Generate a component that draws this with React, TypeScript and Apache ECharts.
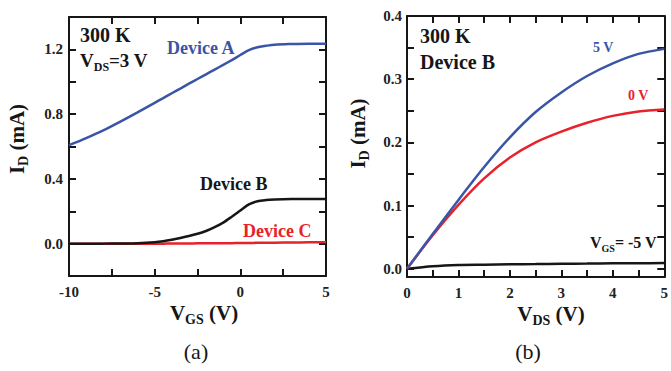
import React, { useEffect, useRef } from 'react';
import * as echarts from 'echarts';

// ---------- data ----------
const vgs = [-10, -9, -8, -7, -6, -5, -4.5, -4, -3.5, -3, -2.5, -2, -1.5, -1, -0.5, 0, 0.5, 1, 1.5, 2, 3, 4, 5];
const deviceA = [0.608, 0.652, 0.7, 0.754, 0.811, 0.87, 0.899, 0.929, 0.958, 0.988, 1.017, 1.046, 1.075, 1.104, 1.134, 1.165, 1.195, 1.213, 1.222, 1.229, 1.233, 1.235, 1.235];
const deviceB = [0, 0, 0, 0.001, 0.003, 0.009, 0.015, 0.024, 0.035, 0.047, 0.061, 0.078, 0.102, 0.13, 0.166, 0.204, 0.242, 0.262, 0.269, 0.272, 0.275, 0.276, 0.276];
const deviceC = [0, 0, 0, 0, 0, 0, 0, 0.001, 0.001, 0.001, 0.002, 0.002, 0.002, 0.003, 0.003, 0.004, 0.004, 0.005, 0.005, 0.006, 0.007, 0.008, 0.009];

const vds = [0, 0.5, 1, 1.5, 2, 2.5, 3, 3.5, 4, 4.5, 5];
const idVgs5 = [0, 0.055, 0.109, 0.161, 0.208, 0.248, 0.279, 0.305, 0.325, 0.34, 0.348];
const idVgs0 = [0, 0.053, 0.101, 0.143, 0.176, 0.2, 0.217, 0.231, 0.242, 0.249, 0.252];
const idVgsM5 = [0, 0.004, 0.006, 0.0065, 0.007, 0.0075, 0.008, 0.0083, 0.0086, 0.0088, 0.009];

const leftXTicks = [-10, -7.5, -5, -2.5, 0, 2.5, 5];
const leftXLabels = [-10, -5, 0, 5];
const leftYTicks = [-0.2, 0, 0.2, 0.4, 0.6, 0.8, 1.0, 1.2, 1.4];
const leftYLabels = [0, 0.4, 0.8, 1.2];
const rightXTicks = [0, 0.5, 1, 1.5, 2, 2.5, 3, 3.5, 4, 4.5, 5];
const rightXLabels = [0, 1, 2, 3, 4, 5];
const rightYTicks = [0, 0.05, 0.1, 0.15, 0.2, 0.25, 0.3, 0.35, 0.4];
const rightYLabels = [0, 0.1, 0.2, 0.3, 0.4];

// ---------- styles ----------
const BLUE = '#3a55a6';
const RED = '#e8222c';
const BLACK = '#161616';
const SERIF = "'Liberation Serif', 'Times New Roman', Times, serif";

const axisLine = { show: true, onZero: false, lineStyle: { color: BLACK, width: 2 } };
const tickBase = { show: true, inside: true, length: 7, lineStyle: { color: BLACK, width: 2 } };
const labelBase = { fontFamily: SERIF, fontWeight: 'bold' as const, fontSize: 15, color: '#222' };

function plainText(text: string, x: number, baseline: number, size: number, color: string, align = 'left', weight = 'bold') {
  return {
    type: 'text',
    x,
    y: baseline - 0.3375 * size,
    style: {
      text,
      fontSize: size,
      fontFamily: SERIF,
      fontWeight: weight,
      fill: color,
      align,
      textAlign: align,
      verticalAlign: 'middle',
      textVerticalAlign: 'middle',
    },
    z: 100,
  };
}

function subText(
  pre: string, sub: string, post: string,
  x: number, baseline: number, F: number, S: number, drop: number,
  color: string, align = 'left', rotation = 0,
) {
  const offset = drop + 0.3375 * F - 0.3375 * S;
  const L = Math.max(F + 6, 2 * offset + 2);
  const h = L - 2 * offset;
  const centerShift = 0.3375 * F;
  const pos = rotation
    ? { x: baseline - centerShift, y: x }
    : { x, y: baseline - centerShift };
  return {
    type: 'text',
    ...pos,
    rotation,
    style: {
      text: `{m|${pre}}{s|${sub}}{m|${post}}`,
      fontSize: F,
      fontFamily: SERIF,
      fontWeight: 'bold',
      fill: color,
      align,
      textAlign: align,
      verticalAlign: 'middle',
      textVerticalAlign: 'middle',
      rich: {
        m: { fontSize: F, lineHeight: L, fontFamily: SERIF, fontWeight: 'bold', fill: color, verticalAlign: 'middle' },
        s: { fontSize: S, lineHeight: h, fontFamily: SERIF, fontWeight: 'bold', fill: color, verticalAlign: 'bottom' },
      },
    },
    z: 100,
  };
}

function lineSeries(xs: number[], ys: number[], color: string, xi: number, yi: number, z: number) {
  return {
    type: 'line',
    xAxisIndex: xi,
    yAxisIndex: yi,
    data: xs.map((x, i) => [x, ys[i]]),
    symbol: 'none',
    smooth: 0.3,
    lineStyle: { color, width: 2.5 },
    itemStyle: { color },
    z,
  };
}

export default function App() {
  const ref = useRef<HTMLDivElement>(null);
  useEffect(() => {
    document.body.style.margin = '0';
    if (!ref.current) return;
    const chart = echarts.init(ref.current, undefined, { renderer: 'svg' });

    const xAxisPair = (gi: number, min: number, max: number, ticks: number[], labels: number[]) => [
      {
        gridIndex: gi, type: 'value', min, max, position: 'bottom',
        axisLine, axisTick: { ...tickBase, customValues: ticks },
        axisLabel: { ...labelBase, margin: 8, customValues: labels, formatter: (v: number) => String(v) },
        splitLine: { show: false },
      },
      {
        gridIndex: gi, type: 'value', min, max, position: 'top',
        axisLine, axisTick: { ...tickBase, customValues: ticks },
        axisLabel: { show: false }, splitLine: { show: false },
      },
    ];
    const yAxisPair = (gi: number, min: number, max: number, ticks: number[], labels: number[], margin: number) => [
      {
        gridIndex: gi, type: 'value', min, max, position: 'left',
        axisLine, axisTick: { ...tickBase, customValues: ticks },
        axisLabel: { ...labelBase, margin, customValues: labels, formatter: (v: number) => v.toFixed(1) },
        splitLine: { show: false },
      },
      {
        gridIndex: gi, type: 'value', min, max, position: 'right',
        axisLine, axisTick: { ...tickBase, customValues: ticks },
        axisLabel: { show: false }, splitLine: { show: false },
      },
    ];

    const option: any = {
      animation: false,
      grid: [
        { left: 69, top: 17, width: 257, height: 259 },
        { left: 407, top: 16, width: 259, height: 261 },
      ],
      xAxis: [
        ...xAxisPair(0, -10, 5, leftXTicks, leftXLabels),
        ...xAxisPair(1, 0, 5, rightXTicks, rightXLabels),
      ],
      yAxis: [
        ...yAxisPair(0, -0.2, 1.4, leftYTicks, leftYLabels, 6),
        ...yAxisPair(1, -0.013, 0.4, rightYTicks, rightYLabels, 5),
      ],
      series: [
        lineSeries(vgs, deviceC, RED, 0, 0, 2),
        lineSeries(vgs, deviceB, BLACK, 0, 0, 3),
        lineSeries(vgs, deviceA, BLUE, 0, 0, 3),
        lineSeries(vds, idVgsM5, BLACK, 2, 2, 3),
        lineSeries(vds, idVgs0, RED, 2, 2, 3),
        lineSeries(vds, idVgs5, BLUE, 2, 2, 4),
      ],
      graphic: [
        plainText('300 K', 80, 42, 20, BLACK),
        subText('V', 'DS', '=3 V', 80, 66.5, 19, 12, 7, BLACK),
        plainText('Device A', 167, 54, 18, BLUE),
        plainText('Device B', 200, 190, 18, BLACK),
        plainText('Device C', 243, 237, 18, RED),
        plainText('300 K', 420, 43, 20, BLACK),
        plainText('Device B', 420, 69, 20, BLACK),
        plainText('5 V', 593, 52.5, 14, BLUE),
        plainText('0 V', 628, 100, 14, RED),
        subText('V', 'GS', '= -5 V', 590, 248, 16, 10, 5, BLACK),
        subText('V', 'GS', ' (V)', 204, 320, 21, 14, 7, BLACK, 'center'),
        subText('V', 'DS', ' (V)', 551, 321, 21, 14, 7, BLACK, 'center'),
        subText('I', 'D', ' (mA)', 139, 24, 21, 14, 7, BLACK, 'center', Math.PI / 2),
        subText('I', 'D', ' (mA)', 133.5, 365, 21, 14, 7, BLACK, 'center', Math.PI / 2),
        plainText('(a)', 196, 359, 22, BLACK, 'center', 'normal'),
        plainText('(b)', 528, 359, 22, BLACK, 'center', 'normal'),
      ],
    };
    chart.setOption(option);
    return () => chart.dispose();
  }, []);
  return <div ref={ref} style={{ width: 671, height: 371 }} />;
}
